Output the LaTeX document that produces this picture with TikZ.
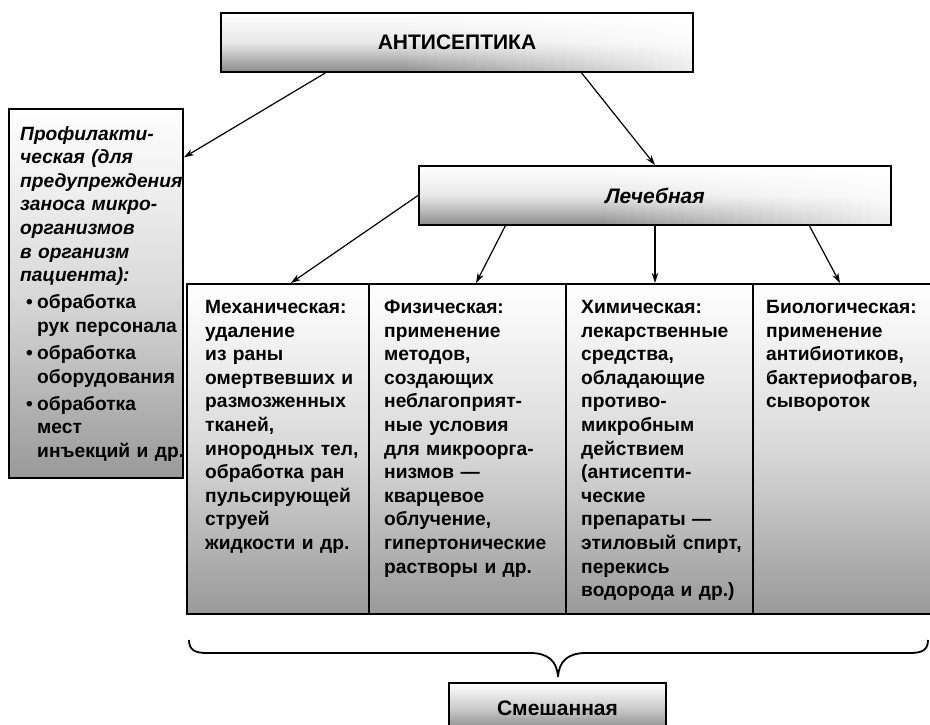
\documentclass[tikz,border=0pt]{standalone}
\usepackage{fontspec}
\setmainfont{Liberation Sans}
\usetikzlibrary{arrows.meta,calc}
\begin{document}
\begin{tikzpicture}[x=1pt,y=-1pt]
\tikzset{
  boxline/.style={draw=black, line width=2pt},
  hdrbox/.style={boxline, top color=white, bottom color=black!45, middle color=black!8,
     inner sep=0pt, anchor=north west, font=\fontsize{21}{25}\selectfont\bfseries},
  fadebox/.style={path picture={
     \foreach \i in {0,...,47} {
       \pgfmathsetmacro\dk{ifthenelse(\i<18,45,45-37*(\i-18)/29)}
       \pgfmathsetmacro\md{\dk*0.2}
       \pgfmathsetmacro\fa{\i/48}
       \pgfmathsetmacro\fb{(\i+1.4)/48}
       \shade[top color=white, bottom color=black!\dk, middle color=black!\md]
         ($(path picture bounding box.north west)!\fa!(path picture bounding box.north east)$)
         rectangle ($(path picture bounding box.south west)!\fb!(path picture bounding box.south east)$);
     }}},
  colbox/.style={boxline, top color=white, bottom color=black!40, middle color=black!15,
     inner sep=0pt, anchor=north west, minimum height=330pt},
  coltext/.style={anchor=north west, inner sep=0pt, align=left, text width=200pt,
     font=\fontsize{19.2}{23.6}\selectfont\bfseries},
  arr/.style={line width=1.2pt, -{Stealth[length=10pt,width=6.5pt]}},
  bracepath/.style={line width=1.8pt}
}
\useasboundingbox (0,0) rectangle (930,725);
\fill[white] (0,0) rectangle (930,725);

% header boxes
\node[hdrbox, fadebox, minimum width=472pt, minimum height=59pt] (top) at (220,12) {АНТИСЕПТИКА};
\node[hdrbox, fadebox, minimum width=472pt, minimum height=59pt, font=\fontsize{21}{25}\selectfont\bfseries\itshape] (lech) at (418,165) {Лечебная};

% left box
\node[colbox, minimum width=174pt, minimum height=369pt] (left) at (8,108) {};
\node[coltext, text width=170pt] (lefttxt) at (20,126) {{\itshape Профилакти-\\
ческая (для\\
предупреждения\\
заноса микро-\\
организмов\\
в организм\\
пациента):}\\[3.5pt]
\hspace*{6pt}\makebox[11pt][l]{•}обработка\\
\hspace*{17pt}рук персонала\\[3.5pt]
\hspace*{6pt}\makebox[11pt][l]{•}обработка\\
\hspace*{17pt}оборудования\\[3.5pt]
\hspace*{6pt}\makebox[11pt][l]{•}обработка\\
\hspace*{17pt}мест\\
\hspace*{17pt}инъекций и др.};

% columns
\node[colbox, minimum width=182pt] (mech) at (186,283) {};
\node[colbox, minimum width=197pt] (phys) at (368,283) {};
\node[colbox, minimum width=187pt] (chem) at (565,283) {};
\node[colbox, minimum width=183pt] (bio) at (752,283) {};

\node[coltext] (mechtxt) at (205,300) {Механическая:\\
удаление\\
из раны\\
омертвевших и\\
размозженных\\
тканей,\\
инородных тел,\\
обработка ран\\
пульсирующей\\
струей\\
жидкости и др.};
\node[coltext] (phystxt) at (384,300) {Физическая:\\
применение\\
методов,\\
создающих\\
неблагоприят-\\
ные условия\\
для микроорга-\\
низмов —\\
кварцевое\\
облучение,\\
гипертонические\\
растворы и др.};
\node[coltext] (chemtxt) at (581,300) {Химическая:\\
лекарственные\\
средства,\\
обладающие\\
противо-\\
микробным\\
действием\\
(антисепти-\\
ческие\\
препараты —\\
этиловый спирт,\\
перекись\\
водорода и др.)};
\node[coltext] (biotxt) at (766,300) {Биологическая:\\
применение\\
антибиотиков,\\
бактериофагов,\\
сывороток};

% bottom box
\node[hdrbox, minimum width=217pt, minimum height=50pt, bottom color=black!50, middle color=black!20] (mix) at (448,682) {Смешанная};

% arrows
\draw[arr] ($(top.south west)!0.222!(top.south east)$) -- ($(left.north east)!0.133!(left.south east)$);
\draw[arr] ($(top.south west)!0.763!(top.south east)$) -- (lech.north);
\draw[arr] (lech.west) -- ($(mech.north west)!0.57!(mech.north east)$);
\draw[arr] ($(lech.south west)!0.184!(lech.south east)$) -- ($(phys.north west)!0.543!(phys.north east)$);
\draw[arr] (lech.south) -- (lech.south |- chem.north);
\draw[arr] ($(lech.south west)!0.826!(lech.south east)$) -- ($(bio.north west)+(88,0)$);

% brace
\coordinate (bracetip) at (558,677);
\draw[bracepath] (189,640) .. controls (189,650) and (195,653) .. (207,653) -- (530,653)
  .. controls (548,653) and (557,661) .. (bracetip)
  .. controls (559,661) and (568,653) .. (586,653) -- (910,653)
  .. controls (922,653) and (928,650) .. (928,640);
\end{tikzpicture}
\end{document}
